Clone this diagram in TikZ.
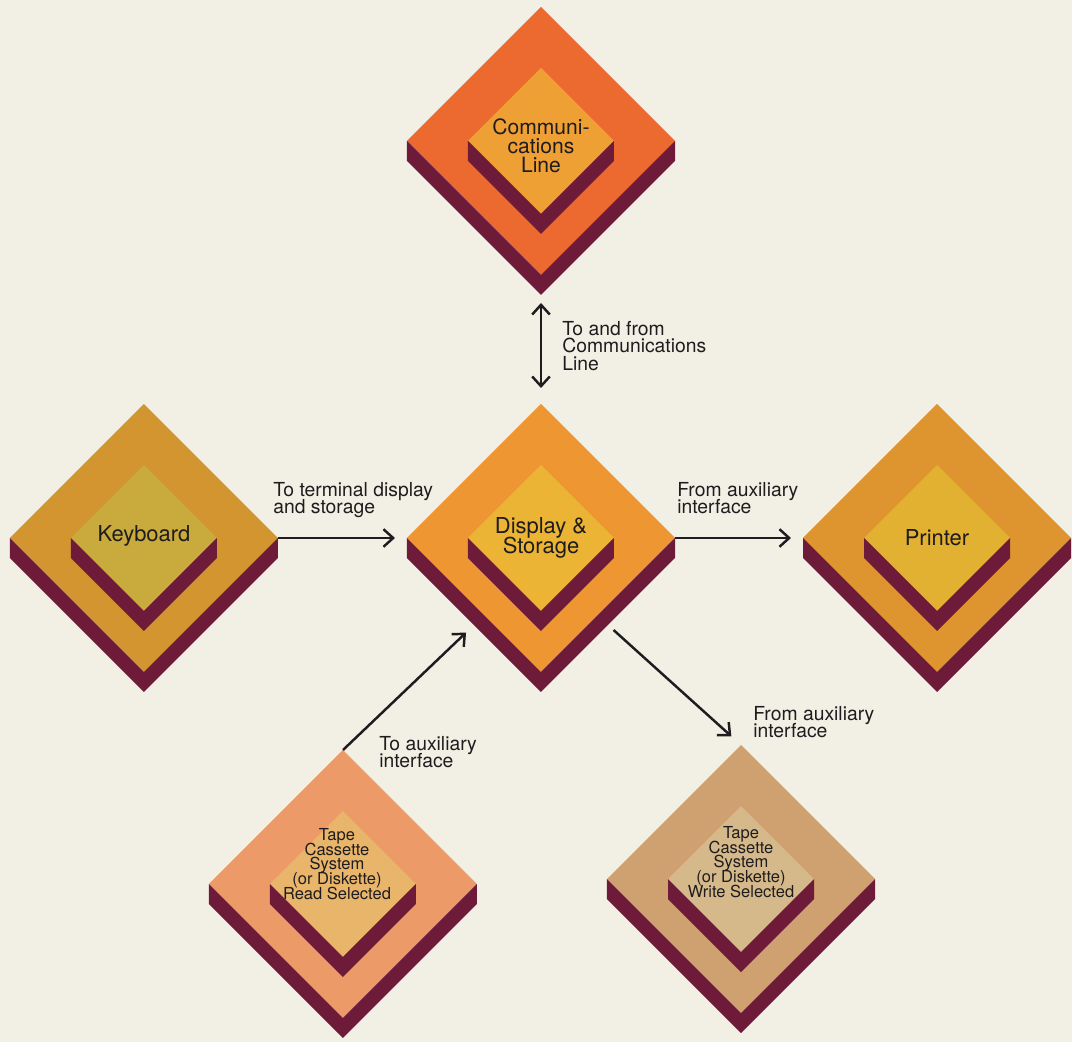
\documentclass[tikz,border=0pt]{standalone}
\usepackage{fontspec}
\setmainfont{TeX Gyre Heros}
\usetikzlibrary{shapes.geometric,arrows.meta}

\definecolor{paper}{RGB}{242,240,228}
\definecolor{ink}{RGB}{30,28,30}
\definecolor{slabside}{RGB}{110,27,58}
\definecolor{commsout}{RGB}{236,106,48}
\definecolor{commsin}{RGB}{239,160,52}
\definecolor{keybout}{RGB}{210,149,48}
\definecolor{keybin}{RGB}{201,170,60}
\definecolor{dispout}{RGB}{238,150,50}
\definecolor{dispin}{RGB}{235,180,53}
\definecolor{prntout}{RGB}{223,149,47}
\definecolor{prntin}{RGB}{226,177,50}
\definecolor{treadout}{RGB}{236,154,104}
\definecolor{treadin}{RGB}{232,181,106}
\definecolor{twriteout}{RGB}{207,160,112}
\definecolor{twritein}{RGB}{214,185,138}

\setlength{\lineskiplimit}{-\maxdimen}

\tikzset{
  tile/.style={diamond, aspect=1, inner sep=0pt, outer sep=0pt},
  bigtile/.style={tile, minimum width=5.36cm, minimum height=5.36cm},
  smalltile/.style={tile, minimum width=2.92cm, minimum height=2.92cm},
  tiletext/.style={align=center, inner sep=0pt, text=ink, font=\fontsize{12.5}{11}\selectfont},
  smalltext/.style={tiletext, font=\fontsize{9.4}{8.3}\selectfont},
  note/.style={right, align=left, inner sep=0pt, text=ink, font=\fontsize{11}{9.9}\selectfont},
  arr/.style={-{Straight Barb[length=5.5pt,width=10pt]}, line width=1.4pt, draw=ink},
  dblarr/.style={{Straight Barb[length=5.5pt,width=10pt]}-{Straight Barb[length=5.5pt,width=10pt]}, line width=1.4pt, draw=ink}
}

\newcommand{\slab}[1]{\fill[slabside] (#1.west) -- (#1.south) -- (#1.east) -- ([yshift=-4mm]#1.east) -- ([yshift=-4mm]#1.south) -- ([yshift=-4mm]#1.west) -- cycle;}

\begin{document}
\begin{tikzpicture}
  \fill[paper] (-10.82,-10.08) rectangle (10.62,10.76);

  \node[bigtile, fill=commsout] (comms) at (0,7.94) {};
  \slab{comms}
  \node[smalltile, fill=commsin] (comms-in) at (comms) {};
  \slab{comms-in}
  \node[tiletext, font=\fontsize{12}{10.8}\selectfont] (comms-txt) at ([yshift=-1mm]comms) {Communi-\\cations\\Line};

  \node[bigtile, fill=keybout] (keyb) at (-7.94,0) {};
  \slab{keyb}
  \node[smalltile, fill=keybin] (keyb-in) at (keyb) {};
  \slab{keyb-in}
  \node[tiletext] (keyb-txt) at ([yshift=0.4mm]keyb) {Keyboard};

  \node[bigtile, fill=dispout] (disp) at (0,0) {};
  \slab{disp}
  \node[smalltile, fill=dispin] (disp-in) at (disp) {};
  \slab{disp-in}
  \node[tiletext] (disp-txt) at (disp) {Display \&\\Storage};

  \node[bigtile, fill=prntout] (prnt) at (7.92,0) {};
  \slab{prnt}
  \node[smalltile, fill=prntin] (prnt-in) at (prnt) {};
  \slab{prnt-in}
  \node[tiletext] (prnt-txt) at (prnt) {Printer};

  \node[bigtile, fill=treadout] (tread) at (-3.96,-6.92) {};
  \slab{tread}
  \node[smalltile, fill=treadin] (tread-in) at (tread) {};
  \slab{tread-in}
  \node[smalltext] (tread-txt) at ([xshift=-1.2mm,yshift=4mm]tread) {Tape\\Cassette\\System\\(or Diskette)\\Read Selected};

  \node[bigtile, fill=twriteout] (twrite) at (4,-6.82) {};
  \slab{twrite}
  \node[smalltile, fill=twritein] (twrite-in) at (twrite) {};
  \slab{twrite-in}
  \node[smalltext] (twrite-txt) at ([yshift=3.4mm]twrite) {Tape\\Cassette\\System\\(or Diskette)\\Write Selected};

  \draw[dblarr, shorten <=3.2mm, shorten >=5.6mm] (disp.north) -- (comms.south);
  \draw[arr, shorten >=2.4mm] (keyb.east) -- (disp.west);
  \draw[arr, shorten >=2.4mm] (disp.east) -- (prnt.west);
  \draw[arr, shorten >=2.2mm] (tread.north) -- ([yshift=-4mm]disp.south west);
  \draw[arr, shorten <=1.5mm, shorten >=2.6mm] ([yshift=-4mm]disp.south east) -- (twrite.north);

  \node[note] (comms-note) at (0.42,3.84) {To and from\\Communications\\Line};
  \node[note] (keyb-note) at (-5.36,0.76) {To terminal display\\and storage};
  \node[note] (prnt-note) at (2.72,0.8) {From auxiliary\\interface};
  \node[note] (tread-note) at (-3.24,-4.28) {To auxiliary\\interface};
  \node[note] (twrite-note) at (4.24,-3.68) {From auxiliary\\interface};
\end{tikzpicture}
\end{document}
